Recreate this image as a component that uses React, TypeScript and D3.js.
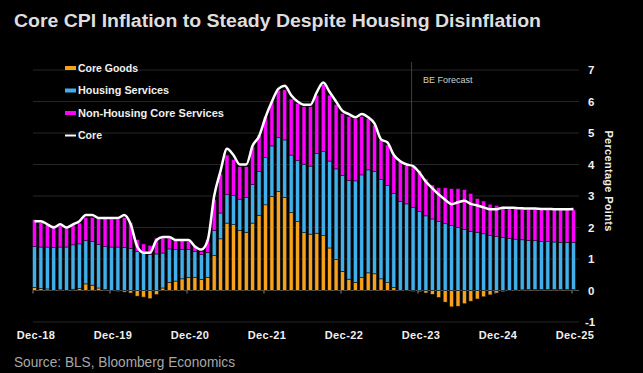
import React from "react";
import * as d3 from "d3";

const W = 643;
const H = 373;

const tickLabels = ["Dec-18", "Dec-19", "Dec-20", "Dec-21", "Dec-22", "Dec-23", "Dec-24", "Dec-25"];
const yTicks = [-1, 0, 1, 2, 3, 4, 5, 6, 7];

// Monthly, Dec-2018 .. Dec-2025 (85 months), percentage-point contributions
const goods = [
  0.10, 0.07, 0.05, 0.00, 0.02, -0.01, 0.04, 0.07, 0.21, 0.17, 0.08, 0.03,
  0.00, -0.03, -0.05, -0.08, -0.18, -0.21, -0.26, -0.13, 0.08, 0.26, 0.30, 0.37,
  0.42, 0.42, 0.35, 0.42, 1.11, 1.64, 2.14, 2.09, 1.91, 1.85, 2.14, 2.39,
  2.72, 2.99, 3.14, 2.96, 2.48, 2.19, 1.84, 1.79, 1.82, 1.74, 1.35, 0.98,
  0.61, 0.36, 0.26, 0.42, 0.56, 0.53, 0.37, 0.25, 0.10, 0.00, -0.01, -0.03,
  -0.04, -0.08, -0.12, -0.22, -0.37, -0.52, -0.50, -0.42, -0.34, -0.27, -0.20, -0.14,
  -0.08, -0.04, -0.01, 0.01, 0.02, 0.03, 0.03, 0.03, 0.03, 0.03, 0.03, 0.03,
  0.03,
];
const housing = [
  1.30, 1.31, 1.33, 1.36, 1.36, 1.38, 1.41, 1.41, 1.37, 1.39, 1.38, 1.36,
  1.38, 1.38, 1.37, 1.34, 1.24, 1.19, 1.14, 1.16, 1.11, 1.06, 1.00, 0.93,
  0.88, 0.82, 0.79, 0.79, 0.79, 0.82, 0.90, 0.92, 0.99, 1.10, 1.22, 1.39,
  1.50, 1.60, 1.71, 1.82, 1.82, 1.93, 2.17, 2.16, 2.53, 2.67, 2.76, 2.88,
  3.04, 3.13, 3.22, 3.25, 3.27, 3.25, 3.15, 3.09, 2.98, 2.83, 2.75, 2.64,
  2.51, 2.37, 2.27, 2.19, 2.12, 2.07, 2.00, 1.94, 1.88, 1.85, 1.80, 1.75,
  1.71, 1.68, 1.65, 1.62, 1.59, 1.56, 1.55, 1.53, 1.52, 1.51, 1.50, 1.50,
  1.50,
];
const nonHousing = [
  0.85, 0.78, 0.70, 0.70, 0.68, 0.63, 0.65, 0.66, 0.74, 0.76, 0.84, 0.91,
  0.89, 0.89, 0.94, 0.82, 0.37, 0.29, 0.29, 0.51, 0.48, 0.35, 0.29, 0.29,
  0.26, 0.16, 0.10, 0.40, 0.98, 1.24, 1.26, 1.15, 1.03, 0.98, 1.20, 1.16,
  1.30, 1.40, 1.51, 1.59, 1.78, 1.82, 1.83, 1.89, 1.85, 2.13, 2.09, 2.04,
  1.97, 2.04, 1.99, 1.86, 1.63, 1.47, 1.26, 1.28, 1.20, 1.26, 1.21, 1.29,
  1.29, 1.17, 1.08, 1.07, 1.14, 1.16, 1.23, 1.26, 1.20, 1.07, 1.04, 0.99,
  0.99, 0.99, 0.97, 0.97, 0.98, 0.99, 0.99, 1.01, 1.01, 1.02, 1.03, 1.03,
  1.03,
];
const core = [
  2.2, 2.2, 2.1, 2.0, 2.1, 2.0, 2.1, 2.2, 2.4, 2.4, 2.3, 2.3,
  2.3, 2.3, 2.4, 2.1, 1.4, 1.2, 1.2, 1.6, 1.7, 1.7, 1.6, 1.6,
  1.6, 1.4, 1.3, 1.6, 3.0, 3.8, 4.5, 4.3, 4.0, 4.0, 4.6, 4.9,
  5.5, 6.0, 6.4, 6.5, 6.2, 6.0, 5.9, 5.9, 6.3, 6.6, 6.3, 6.0,
  5.7, 5.6, 5.5, 5.6, 5.5, 5.3, 4.8, 4.7, 4.3, 4.1, 4.0, 3.95,
  3.74, 3.45, 3.25, 3.05, 2.88, 2.74, 2.80, 2.85, 2.75, 2.70, 2.64, 2.58,
  2.58, 2.63, 2.63, 2.62, 2.61, 2.60, 2.60, 2.59, 2.59, 2.58, 2.58, 2.58,
  2.59,
];
const forecastStartIndex = 59; // Nov-23

const COL_GOODS = "#f7a21b";
const COL_HOUSING = "#40b0ec";
const COL_NONHOUSING = "#ff00ff";

export default function App() {
  React.useEffect(() => {
    document.body.style.margin = "0";
    document.body.style.background = "#000";
  }, []);

  const x = d3.scaleLinear().domain([0, 84]).range([33, 572]);
  const y = d3.scaleLinear().domain([-1, 7]).range([322, 70]);
  const barW = 4;
  const off = 1.5;

  const bars: { key: string; x: number; y0: number; y1: number; fill: string }[] = [];
  goods.forEach((g, i) => {
    const base = Math.max(g, 0);
    bars.push({ key: "g" + i, x: x(i) + off, y0: Math.min(g, 0), y1: Math.max(g, 0), fill: COL_GOODS });
    bars.push({ key: "h" + i, x: x(i) + off, y0: base, y1: base + housing[i], fill: COL_HOUSING });
    bars.push({ key: "n" + i, x: x(i) + off, y0: base + housing[i], y1: base + housing[i] + nonHousing[i], fill: COL_NONHOUSING });
  });

  const line = d3
    .line<number>()
    .x((_, i) => x(i) + off)
    .y((d) => y(d))
    .curve(d3.curveMonotoneX);

  const legend = [
    { label: "Core Goods", color: COL_GOODS, type: "bar", len: 60 },
    { label: "Housing Services", color: COL_HOUSING, type: "bar", len: 91 },
    { label: "Non-Housing Core Services", color: COL_NONHOUSING, type: "bar", len: 146 },
    { label: "Core", color: "#ffffff", type: "line", len: 24 },
  ];

  const fx = x(forecastStartIndex);
  const font = "'Liberation Sans', Arial, sans-serif";

  return (
    <svg width={W} height={H} style={{ display: "block", background: "#000" }} fontFamily={font}>
      <rect x={0} y={0} width={W} height={H} fill="#000" />
      <text x={14} y={27} fill="#dedede" fontSize={18} fontWeight="bold" textLength={527} lengthAdjust="spacingAndGlyphs">
        Core CPI Inflation to Steady Despite Housing Disinflation
      </text>

      {/* gridlines */}
      {yTicks.map((t) => (
        <line key={"gl" + t} x1={33} x2={579} y1={y(t)} y2={y(t)} stroke={t === 0 ? "#5a5a5a" : "#262626"} strokeWidth={1} />
      ))}

      {/* forecast marker */}
      <line x1={fx} x2={fx} y1={62} y2={y(0)} stroke="#2f4458" strokeWidth={1} />
      <text x={423} y={83} fill="#cfcfcf" fontSize={9}>BE Forecast</text>

      {/* bars */}
      {bars.map((b) => (
        <rect
          key={b.key}
          x={b.x - barW / 2}
          width={barW}
          y={y(b.y1)}
          height={Math.max(0, y(b.y0) - y(b.y1))}
          fill={b.fill}
          stroke="#111"
          strokeWidth={0.6}
        />
      ))}

      {/* x ticks */}
      {tickLabels.map((l, k) => (
        <g key={l}>
          <line x1={x(k * 12)} x2={x(k * 12)} y1={y(0)} y2={y(0) + 3} stroke="#888" strokeWidth={1} />
          <text x={x(k * 12) + 3} y={339} fill="#f0f0f0" fontSize={11} fontWeight="bold" textAnchor="middle" letterSpacing={0.4}>
            {l}
          </text>
        </g>
      ))}

      {/* core line */}
      <path d={line(core) || ""} fill="none" stroke="#ffffff" strokeWidth={2.5} strokeLinejoin="round" />

      {/* y axis labels */}
      {yTicks.map((t) => (
        <text key={"yl" + t} x={t < 0 ? 585 : 588} y={y(t) + 4} fill="#f0f0f0" fontSize={11.5} fontWeight="bold">
          {t}
        </text>
      ))}
      <text
        transform={`translate(605,181) rotate(90)`}
        textAnchor="middle"
        fill="#f0f0f0"
        fontSize={11}
        fontWeight="bold"
        letterSpacing={0.3}
      >
        Percentage Points
      </text>

      {/* legend */}
      {legend.map((l, i) => {
        const cy = 68 + i * 22.5;
        return (
          <g key={l.label}>
            {l.type === "bar" ? (
              <rect x={65} y={cy - 2} width={11} height={4} fill={l.color} />
            ) : (
              <line x1={65} x2={76} y1={cy} y2={cy} stroke={l.color} strokeWidth={2} />
            )}
            <text x={78} y={cy + 3.5} fill="#f0f0f0" fontSize={10} fontWeight="bold" textLength={l.len} lengthAdjust="spacingAndGlyphs">
              {l.label}
            </text>
          </g>
        );
      })}

      <text x={14} y={367} fill="#a8a8a8" fontSize={14} textLength={221} lengthAdjust="spacingAndGlyphs">
        Source: BLS, Bloomberg Economics
      </text>
    </svg>
  );
}
